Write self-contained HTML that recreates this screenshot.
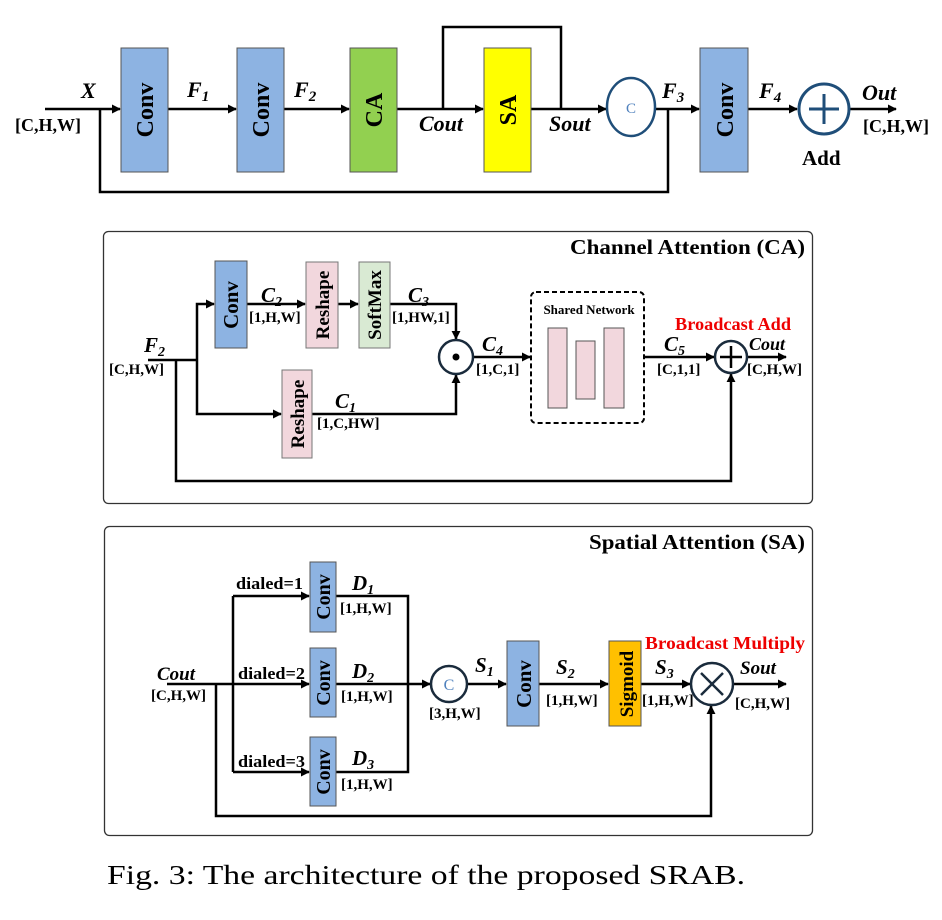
<!DOCTYPE html>
<html><head><meta charset="utf-8"><style>
html,body{margin:0;padding:0;background:#fff;}
svg{display:block;font-family:"Liberation Serif",serif;}
.b{font-weight:bold;}
.i{font-style:italic;font-weight:bold;}
</style></head><body>
<svg width="942" height="920" viewBox="0 0 942 920" xmlns="http://www.w3.org/2000/svg">
<defs>
<marker id="a" viewBox="0 0 10 10" refX="9" refY="5" markerWidth="9" markerHeight="9" markerUnits="userSpaceOnUse" orient="auto"><path d="M0,0 L10,5 L0,10 z" fill="#000"/></marker>
</defs>
<g stroke="#000" stroke-width="2.5" fill="none">
<line x1="45" y1="109" x2="120" y2="109" marker-end="url(#a)"/>
<line x1="168" y1="109" x2="236" y2="109" marker-end="url(#a)"/>
<line x1="284" y1="109" x2="349" y2="109" marker-end="url(#a)"/>
<line x1="397" y1="109" x2="483" y2="109" marker-end="url(#a)"/>
<line x1="531" y1="109" x2="606" y2="109" marker-end="url(#a)"/>
<polyline points="443,109 443,27 561,27 561,109"/>
<line x1="655" y1="109" x2="699" y2="109" marker-end="url(#a)"/>
<line x1="748" y1="109" x2="797" y2="109" marker-end="url(#a)"/>
<line x1="850" y1="109" x2="896" y2="109" marker-end="url(#a)"/>
<polyline points="100,109 100,192 668,192 668,109"/>
</g>
<rect x="121" y="48" width="47" height="124" fill="#8db3e2" stroke="#555" stroke-width="1"/>
<rect x="237" y="48" width="47" height="124" fill="#8db3e2" stroke="#555" stroke-width="1"/>
<rect x="350" y="48" width="47" height="124" fill="#92d050" stroke="#555" stroke-width="1"/>
<rect x="484" y="48" width="47" height="124" fill="#ffff00" stroke="#555" stroke-width="1"/>
<rect x="700" y="48" width="48" height="124" fill="#8db3e2" stroke="#555" stroke-width="1"/>
<ellipse cx="631" cy="107" rx="24" ry="29" fill="#fff" stroke="#1f4e79" stroke-width="2.5"/>
<text x="631" y="113" text-anchor="middle" font-size="15" fill="#4f81bd" font-family="Liberation Serif,serif">C</text>
<ellipse cx="824" cy="109" rx="25" ry="25" fill="#fff" stroke="#1f4e79" stroke-width="3"/>
<line x1="809" y1="109" x2="839" y2="109" stroke="#1f4e79" stroke-width="3"/>
<line x1="824" y1="94" x2="824" y2="124" stroke="#1f4e79" stroke-width="3"/>
<g class="b" font-size="24" text-anchor="middle">
<text transform="translate(153,110) rotate(-90)">Conv</text>
<text transform="translate(269,110) rotate(-90)">Conv</text>
<text transform="translate(382,110) rotate(-90)">CA</text>
<text transform="translate(516,110) rotate(-90)">SA</text>
<text transform="translate(733,110) rotate(-90)">Conv</text>
</g>
<g font-size="22" class="i">
<text x="81" y="98">X</text>
<text x="187" y="97">F<tspan font-size="15" dy="4">1</tspan></text>
<text x="294" y="97">F<tspan font-size="15" dy="4">2</tspan></text>
<text x="419" y="131">Cout</text>
<text x="549" y="131">Sout</text>
<text x="662" y="98">F<tspan font-size="15" dy="4">3</tspan></text>
<text x="759" y="98">F<tspan font-size="15" dy="4">4</tspan></text>
<text x="862" y="100">Out</text>
</g>
<g class="b" font-size="18">
<text x="15" y="131">[C,H,W]</text>
<text x="863" y="132">[C,H,W]</text>
<text x="802" y="165" font-size="21">Add</text>
</g>

<!-- CA -->
<rect x="103.5" y="231.5" width="709" height="272" rx="5" fill="none" stroke="#333" stroke-width="1.3"/>
<text x="805" y="254" text-anchor="end" class="b" font-size="21" textLength="235" lengthAdjust="spacingAndGlyphs">Channel Attention (CA)</text>
<g stroke="#000" stroke-width="2.5" fill="none">
<line x1="148" y1="360" x2="197" y2="360"/>
<polyline points="197,360 197,304 214,304" marker-end="url(#a)"/>
<polyline points="197,360 197,414 281,414" marker-end="url(#a)"/>
<line x1="247" y1="304" x2="305" y2="304" marker-end="url(#a)"/>
<line x1="338" y1="304" x2="358" y2="304" marker-end="url(#a)"/>
<polyline points="390,304 456,304 456,339" marker-end="url(#a)"/>
<polyline points="312,414 456,414 456,375" marker-end="url(#a)"/>
<line x1="473" y1="357" x2="530" y2="357" marker-end="url(#a)"/>
<line x1="644" y1="357" x2="714" y2="357" marker-end="url(#a)"/>
<line x1="747" y1="357" x2="786" y2="357" marker-end="url(#a)"/>
<polyline points="176,360 176,481 731,481 731,374" marker-end="url(#a)"/>
</g>
<rect x="215" y="261" width="32" height="87" fill="#8db3e2" stroke="#555" stroke-width="1"/>
<rect x="306" y="262" width="32" height="86" fill="#f2d7dd" stroke="#777" stroke-width="1"/>
<rect x="359" y="262" width="31" height="86" fill="#d9ead3" stroke="#777" stroke-width="1"/>
<rect x="282" y="370" width="30" height="88" fill="#f2d7dd" stroke="#777" stroke-width="1"/>
<circle cx="456" cy="357" r="17" fill="#fff" stroke="#1a2b3c" stroke-width="2.5"/>
<circle cx="456" cy="357" r="3.5" fill="#000"/>
<rect x="531" y="292" width="113" height="131" rx="5" fill="none" stroke="#000" stroke-width="2" stroke-dasharray="5,3"/>
<rect x="548" y="328" width="19" height="80" fill="#f2d7dd" stroke="#555" stroke-width="1"/>
<rect x="576" y="341" width="19" height="58" fill="#f2d7dd" stroke="#555" stroke-width="1"/>
<rect x="604" y="328" width="20" height="80" fill="#f2d7dd" stroke="#555" stroke-width="1"/>
<circle cx="731" cy="357" r="16" fill="#fff" stroke="#1a2b3c" stroke-width="2.5"/>
<line x1="720" y1="357" x2="742" y2="357" stroke="#000" stroke-width="2.5"/>
<line x1="731" y1="346" x2="731" y2="368" stroke="#000" stroke-width="2.5"/>
<g class="b" font-size="19" text-anchor="middle">
<text transform="translate(238,305) rotate(-90)" font-size="21">Conv</text>
<text transform="translate(329,305) rotate(-90)">Reshape</text>
<text transform="translate(381,305) rotate(-90)">SoftMax</text>
<text transform="translate(304,414) rotate(-90)">Reshape</text>
</g>
<g class="i" font-size="21">
<text x="261" y="302">C<tspan font-size="14" dy="4">2</tspan></text>
<text x="408" y="302">C<tspan font-size="14" dy="4">3</tspan></text>
<text x="482" y="351">C<tspan font-size="14" dy="4">4</tspan></text>
<text x="335" y="408">C<tspan font-size="14" dy="4">1</tspan></text>
<text x="144" y="352">F<tspan font-size="14" dy="4">2</tspan></text>
<text x="664" y="351">C<tspan font-size="14" dy="4">5</tspan></text>
<text x="749" y="350" font-size="18">Cout</text>
</g>
<g class="b" font-size="15">
<text x="249" y="322">[1,H,W]</text>
<text x="392" y="322">[1,HW,1]</text>
<text x="476" y="374">[1,C,1]</text>
<text x="317" y="428">[1,C,HW]</text>
<text x="109" y="374">[C,H,W]</text>
<text x="657" y="374">[C,1,1]</text>
<text x="747" y="374">[C,H,W]</text>
<text x="589" y="314" text-anchor="middle" font-size="13">Shared Network</text>
<text x="733" y="330" text-anchor="middle" font-size="18" fill="#e00" textLength="116" lengthAdjust="spacingAndGlyphs">Broadcast Add</text>
</g>

<!-- SA -->
<rect x="104.5" y="526.5" width="708" height="309" rx="5" fill="none" stroke="#333" stroke-width="1.3"/>
<text x="805" y="549" text-anchor="end" class="b" font-size="21" textLength="216" lengthAdjust="spacingAndGlyphs">Spatial Attention (SA)</text>
<g stroke="#000" stroke-width="2.5" fill="none">
<line x1="167" y1="684" x2="233" y2="684"/>
<line x1="233" y1="596" x2="233" y2="772"/>
<line x1="233" y1="596" x2="309" y2="596" marker-end="url(#a)"/>
<line x1="233" y1="684" x2="309" y2="684" marker-end="url(#a)"/>
<line x1="233" y1="772" x2="309" y2="772" marker-end="url(#a)"/>
<polyline points="336,596 408,596 408,772 336,772"/>
<line x1="336" y1="684" x2="430" y2="684" marker-end="url(#a)"/>
<line x1="468" y1="684" x2="506" y2="684" marker-end="url(#a)"/>
<line x1="539" y1="684" x2="608" y2="684" marker-end="url(#a)"/>
<line x1="641" y1="684" x2="690" y2="684" marker-end="url(#a)"/>
<line x1="733" y1="684" x2="786" y2="684" marker-end="url(#a)"/>
<polyline points="216,684 216,816 711,816 711,706" marker-end="url(#a)"/>
</g>
<rect x="310" y="562" width="26" height="70" fill="#8db3e2" stroke="#555" stroke-width="1"/>
<rect x="310" y="648" width="26" height="69" fill="#8db3e2" stroke="#555" stroke-width="1"/>
<rect x="310" y="737" width="26" height="69" fill="#8db3e2" stroke="#555" stroke-width="1"/>
<rect x="507" y="641" width="32" height="85" fill="#8db3e2" stroke="#555" stroke-width="1"/>
<rect x="609" y="641" width="32" height="85" fill="#ffc000" stroke="#555" stroke-width="1"/>
<circle cx="449" cy="684" r="18" fill="#fff" stroke="#1a2b3c" stroke-width="2.5"/>
<text x="449" y="690" text-anchor="middle" font-size="16" fill="#4f81bd">C</text>
<circle cx="712" cy="684" r="21" fill="#fff" stroke="#1a2b3c" stroke-width="2.5"/>
<line x1="701" y1="673" x2="723" y2="695" stroke="#1a2b3c" stroke-width="2.5"/>
<line x1="723" y1="673" x2="701" y2="695" stroke="#1a2b3c" stroke-width="2.5"/>
<g class="b" font-size="20" text-anchor="middle">
<text transform="translate(330,597) rotate(-90)">Conv</text>
<text transform="translate(330,683) rotate(-90)">Conv</text>
<text transform="translate(330,772) rotate(-90)">Conv</text>
<text transform="translate(531,684) rotate(-90)" font-size="21">Conv</text>
<text transform="translate(633,684) rotate(-90)" font-size="19">Sigmoid</text>
</g>
<g class="b" font-size="17">
<text x="236" y="589" textLength="67" lengthAdjust="spacingAndGlyphs">dialed=1</text>
<text x="238" y="679" textLength="67" lengthAdjust="spacingAndGlyphs">dialed=2</text>
<text x="238" y="767" textLength="67" lengthAdjust="spacingAndGlyphs">dialed=3</text>
</g>
<g class="i" font-size="21">
<text x="352" y="590">D<tspan font-size="14" dy="4">1</tspan></text>
<text x="352" y="678">D<tspan font-size="14" dy="4">2</tspan></text>
<text x="352" y="765">D<tspan font-size="14" dy="4">3</tspan></text>
<text x="157" y="680" font-size="19">Cout</text>
<text x="475" y="672">S<tspan font-size="14" dy="4">1</tspan></text>
<text x="556" y="674">S<tspan font-size="14" dy="4">2</tspan></text>
<text x="655" y="674">S<tspan font-size="14" dy="4">3</tspan></text>
<text x="740" y="674" font-size="19">Sout</text>
</g>
<g class="b" font-size="15">
<text x="340" y="613">[1,H,W]</text>
<text x="341" y="701">[1,H,W]</text>
<text x="341" y="789">[1,H,W]</text>
<text x="151" y="700">[C,H,W]</text>
<text x="429" y="718">[3,H,W]</text>
<text x="546" y="705">[1,H,W]</text>
<text x="642" y="705">[1,H,W]</text>
<text x="735" y="708">[C,H,W]</text>
<text x="725" y="649" text-anchor="middle" font-size="18" fill="#e00" textLength="160" lengthAdjust="spacingAndGlyphs">Broadcast Multiply</text>
</g>

<text x="107" y="884" font-size="27" textLength="638" lengthAdjust="spacingAndGlyphs">Fig. 3: The architecture of the proposed SRAB.</text>
</svg>
</body></html>
